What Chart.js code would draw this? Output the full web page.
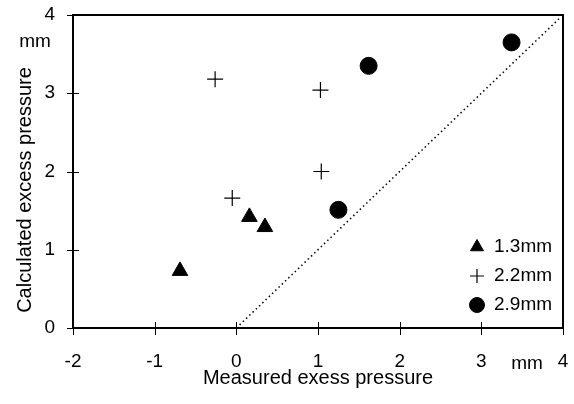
<!DOCTYPE html>
<html>
<head>
<meta charset="utf-8">
<script src="https://cdn.jsdelivr.net/npm/chart.js@4.4.0/dist/chart.umd.min.js"></script>
<style>
  html, body { margin: 0; padding: 0; background: #fff; }
  #wrap { width: 574px; height: 404px; }
</style>
</head>
<body>
<div id="wrap"><canvas id="myChart1"></canvas></div>
<script>
// 1.3mm series
const triX = [-0.69, 0.16, 0.35];
const triY = [0.73, 1.42, 1.29];
// 2.2mm series
const crossX = [-0.26, -0.05, 1.03, 1.04];
const crossY = [3.18, 1.66, 3.04, 2.0];
// 2.9mm series
const circX = [1.62, 3.37, 1.25];
const circY = [3.35, 3.65, 1.51];
// 1:1 reference line
const refX = [0, 3.95];
const refY = [0, 3.95];

const seriesNames = ['1.3mm', '2.2mm', '2.9mm'];
const xTicks = [-2, -1, 0, 1, 2, 3, 4];
const yTicks = [0, 1, 2, 3, 4];

const FONT = "'Liberation Sans', Arial, sans-serif";
Chart.defaults.font.family = FONT;
Chart.defaults.color = '#000';

function pts(xs, ys) {
  return xs.map((x, i) => ({ x: x, y: ys[i] }));
}

// box round the plot, ticks crossing the axes, extra texts and the legend
const extras = {
  id: 'extras',
  afterDraw(chart) {
    const c = chart.ctx;
    const a = chart.chartArea;
    const xs = chart.scales.x, ys = chart.scales.y;
    c.save();
    c.strokeStyle = '#000';
    c.lineWidth = 2;
    c.strokeRect(a.left, a.top, a.right - a.left, a.bottom - a.top);
    c.lineWidth = 1;
    c.beginPath();
    xTicks.forEach(v => {
      const p = Math.round(xs.getPixelForValue(v)) + 0.5;
      c.moveTo(p, a.bottom - 6);
      c.lineTo(p, a.bottom + 7);
    });
    yTicks.forEach(v => {
      const p = Math.round(ys.getPixelForValue(v)) + 0.5;
      c.moveTo(a.left - 6, p);
      c.lineTo(a.left + 6, p);
    });
    c.stroke();

    c.fillStyle = '#000';
    c.font = '19px ' + FONT;
    c.textAlign = 'center';
    c.textBaseline = 'middle';
    c.fillText('mm', 35, 42);
    c.fillText('mm', 527, 364);
    c.save();
    c.font = '20px ' + FONT;
    c.translate(25, 190);
    c.rotate(-Math.PI / 2);
    c.fillText('Calculated excess pressure', 0, 0);
    c.restore();

    // legend
    const lx = 477, ly = [247, 276, 305];
    chart.data.datasets.slice(0, 3).forEach((ds, i) => {
      c.fillStyle = '#000';
      c.strokeStyle = '#000';
      c.lineWidth = ds.borderWidth;
      Chart.helpers.drawPoint(c, {
        pointStyle: ds.pointStyle,
        radius: ds.pointStyle === 'cross' ? 7 : 7.5,
        rotation: 0,
        borderWidth: ds.borderWidth
      }, lx, ly[i]);
    });
    c.fillStyle = '#000';
    c.textAlign = 'left';
    seriesNames.forEach((n, i) => c.fillText(n, 494, ly[i]));
    c.restore();
  }
};

const ctx = document.getElementById('myChart1');
new Chart(ctx, {
  type: 'scatter',
  data: {
    datasets: [{
      label: seriesNames[0],
      data: pts(triX, triY),
      pointStyle: 'triangle',
      pointRadius: 9,
      pointHoverRadius: 9,
      backgroundColor: '#000',
      borderColor: '#000',
      borderWidth: 1
    }, {
      label: seriesNames[1],
      data: pts(crossX, crossY),
      pointStyle: 'cross',
      pointRadius: 8,
      pointHoverRadius: 8,
      backgroundColor: '#000',
      borderColor: '#000',
      borderWidth: 1.2
    }, {
      label: seriesNames[2],
      data: pts(circX, circY),
      pointStyle: 'circle',
      pointRadius: 8.5,
      pointHoverRadius: 8.5,
      backgroundColor: '#000',
      borderColor: '#000',
      borderWidth: 1
    }, {
      type: 'line',
      label: 'ref',
      data: pts(refX, refY),
      borderColor: '#000',
      borderWidth: 1.5,
      borderDash: [1.5, 3],
      pointRadius: 0,
      fill: false
    }]
  },
  options: {
    responsive: true,
    maintainAspectRatio: false,
    animation: false,
    layout: { padding: { left: 0, top: 15, right: 11, bottom: 0 } },
    plugins: {
      legend: { display: false },
      tooltip: { enabled: false }
    },
    scales: {
      x: {
        type: 'linear',
        min: -2,
        max: 4,
        afterBuildTicks: s => { s.ticks = xTicks.map(v => ({ value: v })); },
        afterFit: s => { s.height = 76; },
        grid: { display: false, drawTicks: true, tickLength: 22 },
        border: { display: false },
        ticks: { padding: 0, font: { size: 19 }, color: '#000' },
        title: {
          display: true,
          text: 'Measured exess pressure',
          font: { size: 20 },
          color: '#000',
          padding: { top: 0, bottom: 14 }
        }
      },
      y: {
        type: 'linear',
        min: 0,
        max: 4,
        afterBuildTicks: s => { s.ticks = yTicks.map(v => ({ value: v })); },
        afterFit: s => { s.width = 73; },
        grid: { display: false, drawTicks: true, tickLength: 18 },
        border: { display: false },
        ticks: { padding: 0, font: { size: 19 }, color: '#000' }
      }
    }
  },
  plugins: [extras]
});
</script>
</body>
</html>
